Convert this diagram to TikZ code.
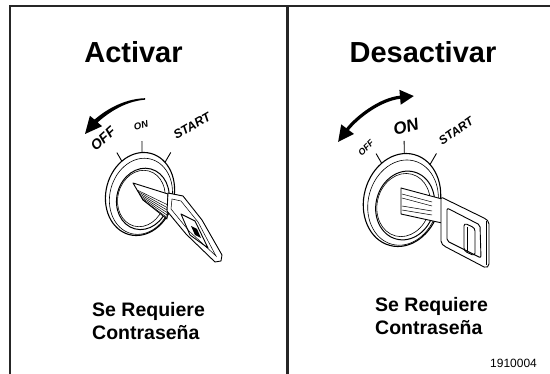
\documentclass[tikz,border=0pt]{standalone}
\usepackage{fontspec}
\setmainfont{Liberation Sans}
\usetikzlibrary{arrows.meta}

% bezel of the ignition switch: centre x, centre y, scale
\newcommand\switchbezel[3]{%
  \begin{scope}[shift={(#1,#2)}, scale=#3, rotate=-15, y=1pt]
    \filldraw[fill=white, line width=1.1pt] (0,0) ellipse [x radius=34pt, y radius=42pt];
    \draw[line width=0.6pt] (1.5,-2) ellipse [x radius=31pt, y radius=38.5pt];
    \draw[line width=1pt] (4,-4) ellipse [x radius=26pt, y radius=31pt];
    \draw[line width=0.6pt] (2.5,-4) ellipse [x radius=23.5pt, y radius=28.5pt];
    \draw[line width=0.9pt] (140:34pt and 42pt) -- ++(-7,7);
    \draw[line width=0.9pt] (105:34pt and 42pt) -- ++(-3,11);
    \draw[line width=0.9pt] (62:34pt and 42pt) -- ++(3,11);
  \end{scope}}

\begin{document}
\begin{tikzpicture}[x=1pt, y=-1pt,
  frameline/.style={line width=2.6pt, draw=black!85},
  title/.style={font=\bfseries\fontsize{29}{34}\selectfont, anchor=base, inner sep=0pt},
  caption/.style={font=\bfseries\fontsize{19.5}{23}\selectfont, anchor=base west, inner sep=0pt},
  dial/.style={font=\bfseries\itshape\fontsize{#1}{#1}\selectfont, inner sep=0pt},
  keyline/.style={line width=0.9pt, line join=round},
  thinline/.style={line width=0.5pt},
  turnboth/.style={line width=3.2pt, {Triangle[length=16pt,width=15pt]}-{Triangle[length=14pt,width=14pt]}}]

\path[use as bounding box, fill=white] (0,0) rectangle (550,374);

% frame
\coordinate (tl) at (9,6);
\coordinate (tr) at (550,6);
\coordinate (bl) at (10,374);
\coordinate (mt) at (287.5,6);
\coordinate (mb) at (287.5,374);
\draw[frameline] (tr) -- (tl |- tr) ++(1,0) -- (bl);
\draw[frameline] (mt) -- (mb);

% titles
\node[title] (t1) at (133.5,63) {Activar};
\node[title] (t2) at (423,63) {Desactivar};

% captions
\node[caption] (c1a) at (92,317) {Se Requiere};
\node[caption] (c1b) at (92,340) {Contraseña};
\node[caption] (c2a) at (375,312) {Se Requiere};
\node[caption] (c2b) at (375,335) {Contraseña};
\node[font=\fontsize{12}{12}\selectfont, anchor=base west, inner sep=0pt] (fig) at (490,368) {1910004};

% ---------- left switch ----------
% tapered turning arrow
\coordinate (a1s) at (145,99);
\coordinate (a1e) at (85,134);
\fill (a1s) ++(0,-0.8) .. controls (122,99) and (104,111.5) .. (94.5,119.6)
  -- (89.9,115.8) -- (a1e) -- (102.1,126.2) -- (97.6,122.4)
  .. controls (106,115) and (123,101.5) .. ([yshift=-0.7pt]a1s) -- cycle;

\node[dial=14, rotate=42] (off1) at (103,139) {OFF};
\node[dial=9.5, rotate=15] (on1) at (141,125) {ON};
\node[dial=12.5, rotate=30] (st1) at (192,126) {START};

\switchbezel{140}{194}{1}

% key blade with its cut edge
\filldraw[fill=white, keyline] (133,183) -- (168,194) -- (167,219) -- (143,200) -- cycle;
\draw[thinline] (137,190) -- (168,205);
\foreach \xa/\ya/\yb in {137.8/191.5/207.5, 138.9/193.5/210, 140/195.5/212.5, 141.1/197.5/215, 142.2/199.3/217.5}
  \draw[thinline] (\xa,\ya) -- (167,\yb);
% key head
\filldraw[fill=white, keyline] (168,193) -- (183,196) -- (202,220) -- (222,255) -- (221,261) -- (215,262) -- (186,234) -- (167,211) -- cycle;
\draw[thinline] (172,199) -- (181,201) -- (198,222) -- (216,256) -- (189,231) -- (171,209) -- cycle;
\draw[keyline] (181,214) -- (195,221) -- (208,248) -- (190,235) -- cycle;
\fill (191,226) -- (197,229) -- (201,238) -- (195,235) -- cycle;

% ---------- right switch ----------
\coordinate (a2s) at (338,142);
\coordinate (a2e) at (414,96);
\draw[turnboth] (a2s) .. controls (356,118) and (380,99) .. (a2e);

\node[dial=9, rotate=45] (off2) at (366,148) {OFF};
\node[dial=17, rotate=15] (on2) at (406,127) {ON};
\node[dial=12, rotate=35] (st2) at (456,131) {START};

\switchbezel{402}{200}{1.12}

% key blade with grooves
\filldraw[fill=white, keyline] (401,188) -- (442,199) -- (442,223) -- (401,214) -- cycle;
\foreach \ya/\yb in {194/202, 198/206, 206/211, 210/215}
  \draw[thinline] (402,\ya) -- (432,\yb);
% key head
\filldraw[fill=white, keyline, rounded corners=2pt] (441,197) -- (486,219) -- (489,222) -- (489,266) -- (486,268) -- (444,246) -- (441,243) -- cycle;
\draw[keyline] (486,221) -- (486,265);
\draw[keyline, rounded corners=2pt] (447,208) -- (480,225) -- (481,258) -- (447,241) -- cycle;
\draw[keyline, rounded corners=3pt] (464,223) -- (475,228) -- (475,256) -- (464,251) -- cycle;
\draw[thinline] (467,227) -- (467,251);

\end{tikzpicture}
\end{document}
